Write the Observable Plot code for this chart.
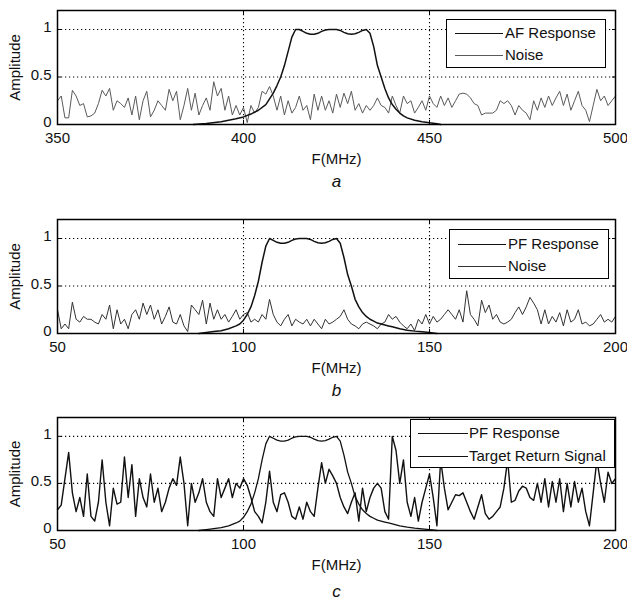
<!DOCTYPE html>
<html><head><meta charset="utf-8">
<script src="https://cdn.jsdelivr.net/npm/d3@7"></script>
<script src="https://cdn.jsdelivr.net/npm/@observablehq/plot@0.6"></script>
<style>
body{margin:0;background:#fff;font-family:"Liberation Sans",Arial,sans-serif;}
#root{position:relative;width:627px;height:601px;overflow:hidden;background:#fff}
#root svg{display:block}
.legend{position:absolute;background:#fff;border:1.5px solid #000;box-sizing:border-box;font-size:15px;color:#111}
.row{position:absolute;height:18px;line-height:18px;white-space:nowrap}
.swatch{position:absolute;height:0;border-top:1.5px solid #000}
</style></head><body><div id="root"></div><script>
// ---- data ----
const yTicks = [0, 0.5, 1];
const xTicksA = [350, 400, 450, 500];
const xTicksB = [50, 100, 150, 200];
const gridXA = [400, 450];
const gridXB = [100, 150];

const noiseAStart = 350;
const noiseA = [
 0.25,0.3,0.07,0.07,0.36,0.3,0.2,0.22,0.08,0.09,
 0.12,0.22,0.36,0.3,0.38,0.15,0.25,0.22,0.18,0.28,
 0.1,0.3,0.05,0.25,0.35,0.08,0.15,0.25,0.2,0.15,
 0.37,0.25,0.35,0.05,0.2,0.38,0.15,0.33,0.1,0.2,
 0.28,0.15,0.45,0.3,0.38,0.15,0.3,0.1,0.2,0.1,
 0.18,0.02,0.2,0.12,0.18,0.35,0.32,0.4,0.3,0.15,
 0.3,0.1,0.25,0.12,0.18,0.3,0.15,0.2,0.05,0.32,
 0.15,0.3,0.15,0.25,0.12,0.32,0.18,0.33,0.22,0.35,
 0.15,0.22,0.12,0.2,0.15,0.2,0.28,0.2,0.18,0.12,
 0.3,0.2,0.12,0.3,0.22,0.25,0.12,0.18,0.25,0.15,
 0.3,0.22,0.18,0.3,0.2,0.28,0.18,0.25,0.32,0.33,
 0.32,0.28,0.22,0.2,0.1,0.12,0.12,0.12,0.15,0.25,
 0.22,0.25,0.2,0.1,0.2,0.15,0.12,0.05,0.25,0.15,
 0.28,0.18,0.3,0.2,0.28,0.35,0.2,0.32,0.15,0.25,
 0.35,0.2,0.15,0.03,0.2,0.37,0.25,0.3,0.2,0.25,
 0.3
];

const noiseBStart = 50;
const noiseB = [
 0.25,0.05,0.1,0.05,0.33,0.15,0.12,0.18,0.15,0.15,
 0.12,0.1,0.2,0.15,0.3,0.05,0.25,0.1,0.15,0.05,
 0.2,0.25,0.15,0.32,0.2,0.3,0.15,0.25,0.1,0.18,
 0.28,0.12,0.1,0.2,0.08,0.02,0.3,0.25,0.2,0.35,
 0.1,0.32,0.15,0.25,0.15,0.2,0.12,0.18,0.25,0.15,
 0.2,0.22,0.12,0.15,0.12,0.2,0.15,0.36,0.2,0.12,
 0.08,0.15,0.2,0.08,0.15,0.12,0.1,0.15,0.08,0.15,
 0.1,0.05,0.15,0.1,0.12,0.15,0.18,0.25,0.15,0.1,
 0.08,0.05,0.1,0.12,0.1,0.08,0.05,0.1,0.12,0.2,
 0.15,0.18,0.12,0.08,0.05,0.1,0.03,0.15,0.1,0.2,
 0.1,0.18,0.12,0.15,0.2,0.25,0.2,0.15,0.25,0.12,
 0.45,0.2,0.15,0.08,0.35,0.22,0.3,0.15,0.2,0.12,
 0.1,0.12,0.15,0.22,0.28,0.2,0.28,0.38,0.32,0.25,
 0.1,0.25,0.1,0.18,0.12,0.22,0.08,0.25,0.12,0.15,
 0.25,0.1,0.12,0.08,0.1,0.15,0.2,0.12,0.15,0.12,
 0.18
];

const signalCStart = 50;
const signalC = [
 0.22,0.27,0.55,0.83,0.4,0.2,0.35,0.15,0.6,0.15,
 0.1,0.3,0.75,0.3,0.05,0.45,0.28,0.3,0.78,0.35,
 0.7,0.15,0.55,0.35,0.25,0.6,0.3,0.45,0.2,0.3,
 0.45,0.55,0.48,0.78,0.5,0.05,0.5,0.3,0.4,0.55,
 0.3,0.2,0.15,0.55,0.35,0.45,0.55,0.35,0.5,0.45,
 0.55,0.48,0.35,0.2,0.15,0.08,0.3,0.63,0.3,0.2,
 0.38,0.4,0.3,0.15,0.12,0.25,0.12,0.3,0.2,0.15,
 0.45,0.72,0.5,0.65,0.58,0.5,0.35,0.25,0.18,0.3,
 0.4,0.1,0.45,0.2,0.35,0.45,0.5,0.45,0.2,0.12,
 1.0,0.85,0.5,0.75,0.3,0.15,0.35,0.1,0.3,0.45,
 0.6,0.35,0.05,0.75,0.45,0.22,0.3,0.38,0.37,0.4,
 0.3,0.2,0.12,0.25,0.38,0.18,0.12,0.15,0.2,0.25,
 0.45,0.75,0.3,0.32,0.42,0.47,0.45,0.35,0.32,0.5,
 0.3,0.55,0.25,0.52,0.3,0.55,0.2,0.5,0.25,0.52,
 0.3,0.45,0.2,0.05,0.4,0.75,0.5,0.3,0.62,0.5,
 0.55
];

// AF filter response (panel a)
const afFreq = [386.5,390,394,398,400,402,404,406,408,409,410,411,412,413,414,415,416,417,418,419,420,421,422,423,424,425,426,427,428,429,430,431,432,433,434,435,436,437,438,439,440,441,442,443,444,446,448,450,452,453];
const afResp = [0,0.01,0.03,0.06,0.08,0.11,0.15,0.21,0.33,0.41,0.5,0.62,0.77,0.92,1.0,1.0,0.98,0.96,0.95,0.95,0.96,0.98,0.995,1.0,1.0,1.0,0.99,0.97,0.955,0.95,0.955,0.97,0.99,1.0,0.96,0.82,0.62,0.5,0.38,0.28,0.21,0.16,0.12,0.09,0.07,0.045,0.03,0.018,0.008,0];

// PF filter response (panels b, c)
const pfFreq = [88,90,92,94,96,98,99,100,101,102,103,104,105,106,107,108,109,110,111,112,113,114,115,116,117,118,119,120,121,122,123,124,125,126,127,128,129,130,131,132,133,134,135,136,137,138,139,140,142,144,146,148,150,152];
const pfResp = [0,0.01,0.02,0.03,0.05,0.08,0.1,0.14,0.2,0.28,0.4,0.55,0.75,0.92,1.0,0.98,0.96,0.95,0.95,0.96,0.98,0.995,1.0,1.0,1.0,0.99,0.97,0.955,0.95,0.955,0.97,0.99,1.0,0.95,0.8,0.62,0.5,0.36,0.28,0.22,0.18,0.15,0.13,0.11,0.1,0.09,0.08,0.07,0.05,0.035,0.025,0.018,0.01,0];

// ---- build tables ----
const series = (start, vals) => vals.map((v, i) => ({f: start + i, v}));
const pairs = (fs, vs) => fs.map((f, i) => ({f, v: vs[i]}));

const FONT = '"Liberation Sans", Arial, sans-serif';
const noText = () => "";
function panel({xDomain, xTicks, gridX, lines, letter, letterDy, height, mt, mb}) {
  return Plot.plot({
    width: 627, height, marginLeft: 57, marginRight: 12, marginTop: mt, marginBottom: mb,
    style: {fontFamily: FONT, fontSize: "15px", color: "#111", background: "#fff", overflow: "visible"},
    x: {domain: xDomain},
    y: {domain: [0, 1.2]},
    marks: [
      Plot.gridY(yTicks.slice(1), {stroke: "#000", strokeOpacity: 1, strokeWidth: 1.1, strokeDasharray: "1.2,2.8"}),
      Plot.gridX(gridX, {stroke: "#000", strokeOpacity: 1, strokeWidth: 1.1, strokeDasharray: "1.2,2.8"}),
      ...lines.map(l => Plot.line(l.data, {x: "f", y: "v", stroke: l.color, strokeWidth: l.width})),
      // inward tick marks on all four sides
      Plot.axisX(xTicks, {anchor: "bottom", tickSize: -4, tickFormat: noText, label: null, stroke: "#000"}),
      Plot.axisX(xTicks, {anchor: "top", tickSize: -4, tickFormat: noText, label: null, stroke: "#000"}),
      Plot.axisY(yTicks, {anchor: "left", tickSize: -4, tickFormat: noText, label: null, stroke: "#000"}),
      Plot.axisY(yTicks, {anchor: "right", tickSize: -4, tickFormat: noText, label: null, stroke: "#000"}),
      Plot.frame({stroke: "#000", strokeWidth: 1.5}),
      Plot.axisX(xTicks, {tickSize: 0, tickPadding: 8, label: "F(MHz)", labelAnchor: "center", labelArrow: "none", labelOffset: 39, fontSize: 15}),
      Plot.axisY(yTicks, {tickSize: 0, tickPadding: 6, dy: -2, tickFormat: d => String(d), label: "Amplitude", labelAnchor: "center", labelArrow: "none", labelOffset: 48, fontSize: 15}),
      Plot.text([letter], {frameAnchor: "bottom", dy: letterDy, fontStyle: "italic", fontSize: 17, fill: "#111"})
    ]
  });
}

const root = document.getElementById("root");
root.append(panel({
  xDomain: [350, 500], xTicks: xTicksA, gridX: gridXA, letter: "a", letterDy: 62, height: 205, mt: 10, mb: 81,
  lines: [
    {data: series(noiseAStart, noiseA), color: "#5a5a5a", width: 1},
    {data: pairs(afFreq, afResp), color: "#111", width: 1.5}
  ]
}));
root.append(panel({
  xDomain: [50, 200], xTicks: xTicksB, gridX: gridXB, letter: "b", letterDy: 62, height: 200, mt: 14, mb: 72,
  lines: [
    {data: series(noiseBStart, noiseB), color: "#333", width: 1},
    {data: pairs(pfFreq, pfResp), color: "#111", width: 1.5}
  ]
}));
root.append(panel({
  xDomain: [50, 200], xTicks: xTicksB, gridX: gridXB, letter: "c", letterDy: 66, height: 196, mt: 12, mb: 71,
  lines: [
    {data: pairs(pfFreq, pfResp), color: "#111", width: 1.3},
    {data: series(signalCStart, signalC), color: "#111", width: 1.4}
  ]
}));

// legends (HTML overlays)
function legend(box, sw, rows) {
  const d = document.createElement("div");
  d.className = "legend";
  Object.assign(d.style, {left: box[0] + "px", top: box[1] + "px", width: box[2] + "px", height: box[3] + "px"});
  rows.forEach((r, i) => {
    const s = document.createElement("div");
    s.className = "swatch";
    Object.assign(s.style, {left: sw[0] + "px", width: sw[1] + "px", top: (r.y) + "px", borderTopColor: r.color});
    const t = document.createElement("div");
    t.className = "row";
    t.textContent = r.label;
    Object.assign(t.style, {left: sw[2] + "px", top: (r.y - 9) + "px"});
    d.append(s, t);
  });
  root.append(d);
}
legend([446, 19, 160, 49], [8, 48, 58], [
  {label: "AF Response", color: "#111", y: 13},
  {label: "Noise", color: "#5a5a5a", y: 35}
]);
legend([449, 229, 160, 50], [8, 48, 58], [
  {label: "PF Response", color: "#111", y: 14},
  {label: "Noise", color: "#333", y: 36}
]);
legend([410, 419, 205, 49], [7, 50, 58], [
  {label: "PF Response", color: "#111", y: 13},
  {label: "Target Return Signal", color: "#111", y: 36}
]);
</script></body></html>
